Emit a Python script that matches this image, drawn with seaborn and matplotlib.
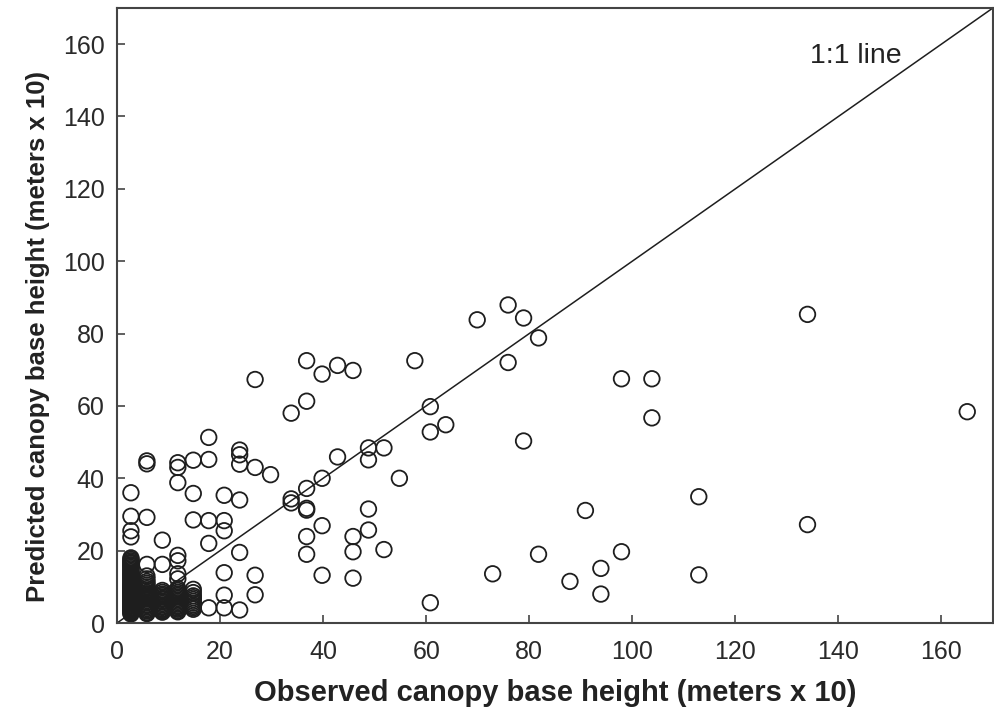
import matplotlib
matplotlib.use("Agg")
import matplotlib.pyplot as plt
import seaborn as sns
import pandas as pd

# ---------------- data ----------------
# predicted canopy base height (meters x 10), grouped by observed value
col_2_7 = [36, 29.5, 25.5, 23.8, 18, 17.6, 17.2, 16.8, 16.5, 16.1, 15.8, 15.4,
           15, 14.6, 14.2, 13.8, 13.5, 13.1, 12.8, 12.4, 12, 11.6, 11.3, 10.9,
           10.6, 10.3, 10, 9.7, 9.4, 9.1, 8.8, 8.5, 8.2, 7.9, 7.6, 7.3, 7, 6.7,
           6.4, 6.1, 5.8, 5.5, 5.2, 4.9, 4.6, 4.3, 4, 3.7, 3.4, 3.1, 2.8, 2.5]
col_5_8 = [44.8, 44.0, 29.2, 16.2, 13, 12.2, 11.5, 11, 10.5, 10, 9.5, 9, 8.5,
           8.1, 7.8, 7.4, 7, 6.6, 6.2, 5.8, 5.5, 5.1, 4.8, 4.4, 4, 3.6, 3.3,
           2.9, 2.6]
col_8_8 = [22.9, 16.2, 9, 8.5, 8, 7.6, 7.2, 6.8, 6.5, 6.1, 5.8, 5.4, 5, 4.6,
           4.3, 3.9, 3.6, 3.3, 3]
col_11_8 = [44.3, 43, 38.8, 18.7, 17.2, 13.6, 12.2, 9.5, 9, 8.5, 8, 7.6, 7.2,
            6.8, 6.4, 6, 5.6, 5.2, 4.8, 4.5, 4.1, 3.8, 3.4, 3.1]
col_14_8 = [45, 35.8, 28.5, 9.3, 8.4, 7.5, 7, 6.5, 6, 5.5, 5, 4.6, 4.2, 3.8]
col_rest = [
    (17.8, [51.3, 45.2, 28.3, 22, 4.2]),
    (20.8, [35.3, 28.3, 25.5, 13.9, 7.7, 4.2]),
    (23.8, [47.8, 46.5, 43.9, 34, 19.5, 3.6]),
    (26.8, [67.3, 43, 13.2, 7.8]),
    (29.8, [41]),
    (33.8, [58, 34.3, 33.2]),
    (36.8, [72.5, 61.3, 37.2, 31.7, 31.2, 23.9, 19]),
    (39.8, [68.8, 40, 26.9, 13.2]),
    (42.8, [71.2, 45.9]),
    (45.8, [69.8, 23.9, 19.7, 12.4]),
    (48.8, [48.4, 45.1, 31.5, 25.7]),
    (51.8, [48.4, 20.3]),
    (54.8, [40]),
    (57.8, [72.5]),
    (60.8, [59.8, 52.8, 5.6]),
    (63.8, [54.8]),
    (69.9, [83.8]),
    (72.9, [13.6]),
    (75.9, [87.9, 72.0]),
    (78.9, [84.3, 50.3]),
    (81.8, [78.8, 19.0]),
    (87.9, [11.5]),
    (90.9, [31.1]),
    (93.9, [15.1, 8.0]),
    (97.9, [67.5, 19.7]),
    (103.8, [67.5, 56.7]),
    (112.9, [34.9, 13.3]),
    (134.0, [85.3, 27.2]),
    (165.0, [58.4]),
]

groups = [(2.7, col_2_7), (5.8, col_5_8), (8.8, col_8_8),
          (11.8, col_11_8), (14.8, col_14_8)] + col_rest
observed = [x for x, ys in groups for _ in ys]
predicted = [y for _, ys in groups for y in ys]
df = pd.DataFrame({"observed": observed, "predicted": predicted})

# ---------------- style ----------------
sns.set_theme(style="ticks")
plt.rcParams["font.family"] = ["Liberation Sans", "DejaVu Sans"]
plt.rcParams["xtick.direction"] = "in"
plt.rcParams["ytick.direction"] = "in"

fig = plt.figure(figsize=(9.95, 7.19), dpi=100)
ax = fig.add_axes([0.1176, 0.1335, 0.8804, 0.8555])

sns.scatterplot(data=df, x="observed", y="predicted", marker="o", s=125,
                facecolors="none", edgecolor="#1e1e1e", linewidth=1.3, ax=ax)

# 1:1 reference line
ax.axline((0, 0), slope=1, color="#1e1e1e", linewidth=1.1, zorder=1)
ax.text(134.4, 154.7, "1:1 line", fontsize=20.5, color="#222222")

ax.set_xlim(0, 170)
ax.set_ylim(0, 170)
ax.set_xticks(range(0, 161, 20))
ax.set_yticks(range(0, 161, 20))
ax.tick_params(axis="both", labelsize=18, colors="#444444", labelcolor="#2a2a2a",
               length=6, width=1.2)
ax.tick_params(axis="x", pad=12)
ax.tick_params(axis="y", pad=9)
for sp in ax.spines.values():
    sp.set_color("#444444")
    sp.set_linewidth(1.5)

ax.set_xlabel("Observed canopy base height (meters x 10)", fontsize=21,
              fontweight="bold", color="#222222", labelpad=11)
ax.set_ylabel("Predicted canopy base height (meters x 10)", fontsize=18.5,
              fontweight="bold", color="#222222")
ax.yaxis.set_label_coords(-0.077, 0.465)

plt.savefig("out.png", dpi=100)
